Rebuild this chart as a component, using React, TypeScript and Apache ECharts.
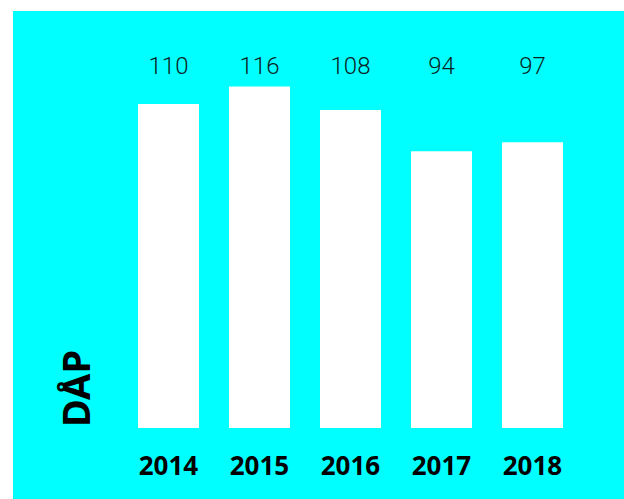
import React, { useEffect, useRef } from "react";
import * as echarts from "echarts";

const categories = ["2014", "2015", "2016", "2017", "2018"];
const values = [110, 116, 108, 94, 97];
const axisTitle = "DÅP";

export default function App() {
  const ref = useRef<HTMLDivElement>(null);
  useEffect(() => {
    if (!ref.current) return;
    const chart = echarts.init(ref.current, null, { renderer: "svg" });
    chart.setOption({
      animation: false,
      backgroundColor: "#00FFFF",
      grid: { left: 110, right: 46, top: 69.5, bottom: 71 },
      xAxis: [
        {
          type: "category",
          data: categories,
          position: "bottom",
          axisLine: { show: false },
          axisTick: { show: false },
          axisLabel: {
            margin: 24,
            fontFamily: "Noto Sans",
            fontWeight: "bold",
            fontSize: 26,
            color: "#000",
          },
        },
        {
          type: "category",
          data: categories,
          position: "top",
          axisLine: { show: false },
          axisTick: { show: false },
          axisLabel: {
            margin: 3,
            fontFamily: "Roboto, 'Noto Sans', sans-serif",
            fontWeight: 300,
            fontSize: 24,
            color: "#0a1f1f",
            formatter: (_v: string, i: number) => String(values[i]),
          },
        },
      ],
      yAxis: {
        type: "value",
        min: 0,
        max: 118,
        show: false,
        splitLine: { show: false },
      },
      graphic: [
        {
          type: "text",
          x: 62,
          y: 377.5,
          rotation: Math.PI / 2,
          style: {
            text: axisTitle,
            fontFamily: "Noto Sans",
            fontWeight: "bold",
            fontSize: 38,
            fill: "#000",
            align: "center",
            verticalAlign: "middle",
          },
        },
      ],
      series: [
        {
          type: "bar",
          data: values,
          barWidth: 61,
          itemStyle: { color: "#FFFFFF" },
        },
      ],
    });
    return () => chart.dispose();
  }, []);
  return (
    <div
      ref={ref}
      style={{ position: "absolute", left: 13, top: 11, width: 611, height: 488 }}
    />
  );
}
